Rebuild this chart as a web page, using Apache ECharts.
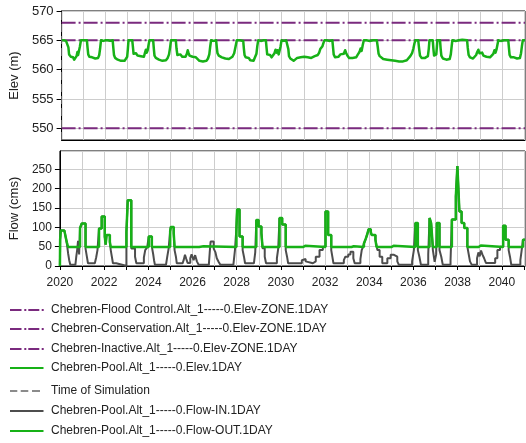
<!DOCTYPE html>
<html>
<head>
<meta charset="utf-8">
<script src="https://cdn.jsdelivr.net/npm/echarts@6/dist/echarts.min.js"></script>
<style>
  html, body { margin: 0; padding: 0; background: #fff; }
  #chart { width: 526px; height: 443px; }
</style>
</head>
<body>
<div id="chart"></div>
<script>
// Reservoir run 2020–2041: pool elevation against zone levels, and daily inflow/outflow.

// Axis ticks and labels
const yearTicks = [2020, 2021, 2022, 2023, 2024, 2025, 2026, 2027, 2028, 2029, 2030,
                   2031, 2032, 2033, 2034, 2035, 2036, 2037, 2038, 2039, 2040, 2041];
const yearLabels = [2020, 2022, 2024, 2026, 2028, 2030, 2032, 2034, 2036, 2038, 2040];
const elevTicks = [550, 555, 560, 565, 570];
const simStart = 2020, simEnd = 2041.05;

// Zone levels (m)
const floodControlElev = [[simStart, 568], [simEnd, 568]];
const conservationElev = [[simStart, 565], [simEnd, 565]];
const inactiveElev = [[simStart, 550], [simEnd, 550]];
const timeOfSimulation = [[simStart, 548], [simStart, 570]];

// Pool elevation (m), [decimal year, value]
const poolElev = [
  [2020.00,565.0],[2020.10,565.0],[2020.20,564.9],[2020.29,565.0],[2020.31,563.8],[2020.34,562.6],
  [2020.38,562.9],[2020.42,562.2],[2020.47,561.9],[2020.52,562.1],[2020.57,561.7],[2020.63,561.8],
  [2020.68,562.3],[2020.72,563.0],[2020.75,562.5],[2020.79,562.8],[2020.83,563.9],[2020.88,565.0],
  [2020.95,564.9],[2021.05,565.0],[2021.15,565.0],[2021.18,563.7],[2021.21,562.6],[2021.26,562.2],
  [2021.32,562.5],[2021.39,562.1],[2021.46,562.3],[2021.53,561.9],[2021.60,562.1],[2021.66,562.0],
  [2021.71,562.5],[2021.75,563.6],[2021.79,565.0],[2021.90,564.9],[2022.00,565.0],[2022.10,565.0],
  [2022.20,564.9],[2022.32,565.0],[2022.35,563.7],[2022.38,562.5],[2022.43,562.0],[2022.49,562.2],
  [2022.55,561.7],[2022.62,561.9],[2022.70,561.5],[2022.78,561.7],[2022.86,561.5],[2022.93,561.8],
  [2022.98,562.2],[2023.01,563.5],[2023.04,565.0],[2023.12,564.9],[2023.21,565.0],[2023.24,563.9],
  [2023.27,562.7],[2023.32,562.5],[2023.38,562.8],[2023.45,562.4],[2023.52,562.6],[2023.60,562.3],
  [2023.67,562.5],[2023.74,562.2],[2023.79,562.9],[2023.83,563.4],[2023.87,562.9],[2023.91,563.3],
  [2023.95,564.2],[2023.99,565.0],[2024.08,564.9],[2024.16,565.0],[2024.19,563.6],[2024.22,562.4],
  [2024.28,562.0],[2024.35,562.2],[2024.42,561.7],[2024.50,561.9],[2024.58,561.5],[2024.66,561.7],
  [2024.74,561.6],[2024.82,562.0],[2024.88,562.6],[2024.93,563.8],[2024.97,565.0],[2025.08,565.0],
  [2025.19,565.0],[2025.22,563.6],[2025.26,562.5],[2025.32,562.3],[2025.40,562.6],[2025.48,562.2],
  [2025.56,562.5],[2025.63,562.2],[2025.69,562.7],[2025.73,563.3],[2025.77,562.8],[2025.81,562.4],
  [2025.88,562.6],[2025.95,562.2],[2026.02,562.5],[2026.10,562.1],[2026.18,561.8],[2026.26,561.5],
  [2026.34,561.7],[2026.42,561.4],[2026.50,561.6],[2026.58,561.5],[2026.65,561.9],[2026.71,562.6],
  [2026.75,563.9],[2026.79,565.0],[2026.90,564.9],[2027.02,565.0],[2027.05,563.8],[2027.08,562.8],
  [2027.14,562.4],[2027.20,562.6],[2027.28,562.1],[2027.36,562.3],[2027.44,561.9],[2027.52,562.1],
  [2027.60,561.8],[2027.68,562.0],[2027.76,562.2],[2027.84,562.8],[2027.90,563.9],[2027.96,565.0],
  [2028.10,565.0],[2028.25,564.9],[2028.28,563.6],[2028.31,562.5],[2028.36,562.1],[2028.43,561.8],
  [2028.50,562.0],[2028.57,561.6],[2028.64,561.8],[2028.72,561.5],[2028.79,561.8],[2028.85,562.7],
  [2028.89,564.0],[2028.93,565.0],[2029.05,564.9],[2029.18,565.0],[2029.28,565.0],[2029.31,563.7],
  [2029.34,562.6],[2029.40,562.3],[2029.47,562.5],[2029.54,562.1],[2029.61,562.4],[2029.67,562.8],
  [2029.72,563.4],[2029.77,562.9],[2029.81,563.3],[2029.86,562.6],[2029.91,562.9],[2029.95,564.0],
  [2029.99,565.0],[2030.10,564.9],[2030.20,565.0],[2030.27,565.0],[2030.30,563.5],[2030.33,562.3],
  [2030.39,561.9],[2030.46,561.7],[2030.54,561.5],[2030.62,561.7],[2030.70,562.0],[2030.78,561.8],
  [2030.86,562.1],[2030.94,561.9],[2031.02,562.2],[2031.10,561.9],[2031.18,562.1],[2031.26,561.8],
  [2031.34,562.0],[2031.42,561.9],[2031.50,562.3],[2031.57,562.1],[2031.64,562.5],[2031.70,562.9],
  [2031.75,563.5],[2031.80,563.2],[2031.85,564.0],[2031.90,564.6],[2031.94,565.0],[2032.05,565.0],
  [2032.15,564.9],[2032.30,565.0],[2032.33,563.8],[2032.36,562.6],[2032.42,562.1],[2032.50,562.4],
  [2032.58,562.2],[2032.66,562.6],[2032.74,562.3],[2032.82,562.7],[2032.88,563.3],[2032.93,562.8],
  [2032.98,562.4],[2033.06,562.0],[2033.14,561.8],[2033.22,562.0],[2033.30,561.7],[2033.38,562.1],
  [2033.46,562.6],[2033.53,563.0],[2033.58,563.6],[2033.63,563.2],[2033.68,564.2],[2033.73,565.0],
  [2033.85,565.0],[2034.00,564.9],[2034.15,565.0],[2034.32,565.0],[2034.36,563.9],[2034.40,562.7],
  [2034.45,562.3],[2034.53,562.0],[2034.61,561.8],[2034.70,562.0],[2034.79,561.7],[2034.88,561.9],
  [2034.97,561.6],[2035.06,561.9],[2035.15,561.5],[2035.24,561.7],[2035.33,561.4],[2035.42,561.6],
  [2035.51,561.4],[2035.60,561.7],[2035.68,561.6],[2035.76,561.9],[2035.84,562.3],[2035.92,562.8],
  [2035.98,563.6],[2036.03,564.5],[2036.07,565.0],[2036.20,565.0],[2036.24,563.6],[2036.28,562.4],
  [2036.35,562.0],[2036.43,561.8],[2036.51,562.0],[2036.58,561.7],[2036.64,562.3],[2036.68,563.6],
  [2036.71,565.0],[2036.86,565.0],[2036.89,563.5],[2036.92,562.4],[2036.97,562.1],[2037.02,562.6],
  [2037.05,564.0],[2037.07,565.0],[2037.19,565.0],[2037.22,563.5],[2037.25,562.4],[2037.32,561.9],
  [2037.40,562.1],[2037.48,561.7],[2037.56,561.9],[2037.63,561.8],[2037.68,562.6],[2037.72,564.0],
  [2037.75,565.0],[2037.90,564.9],[2038.05,565.0],[2038.20,565.1],[2038.42,565.0],[2038.45,563.7],
  [2038.49,562.5],[2038.55,562.1],[2038.62,562.3],[2038.69,561.9],[2038.76,562.1],[2038.83,562.5],
  [2038.88,563.0],[2038.93,563.4],[2038.98,562.8],[2039.04,562.5],[2039.10,562.9],[2039.16,562.4],
  [2039.23,562.7],[2039.30,562.2],[2039.38,562.4],[2039.46,562.1],[2039.54,562.3],[2039.61,562.7],
  [2039.66,563.3],[2039.71,562.9],[2039.76,563.5],[2039.80,564.3],[2039.84,565.0],[2039.95,564.9],
  [2040.10,565.0],[2040.29,565.0],[2040.32,563.7],[2040.35,562.5],[2040.41,562.1],[2040.48,561.9],
  [2040.55,562.1],[2040.62,561.8],[2040.69,561.9],[2040.76,561.7],[2040.82,562.0],[2040.87,562.8],
  [2040.91,564.0],[2040.95,565.0],[2041.05,565.0]
];

// Inflow (cms), step values: [decimal year, value held from that date]
const flowIn = [
  [2020.00,0],[2020.01,68],[2020.04,92],[2020.20,88],[2020.27,72],[2020.32,55],[2020.37,33],
  [2020.42,15],[2020.47,3],[2020.70,8],[2020.74,24],[2020.78,41],[2020.82,65],[2020.87,30],
  [2020.91,98],[2020.99,110],[2021.16,45],[2021.22,24],[2021.27,7],[2021.58,4],[2021.64,22],
  [2021.70,41],[2021.77,97],[2021.89,128],[2022.03,76],[2022.07,55],[2022.11,80],[2022.26,62],
  [2022.30,41],[2022.35,24],[2022.40,7],[2022.55,2],[2022.90,0],[2023.01,88],[2023.07,170],
  [2023.23,45],[2023.40,24],[2023.46,7],[2023.80,22],[2023.86,41],[2023.95,48],[2024.02,76],
  [2024.16,50],[2024.22,31],[2024.26,15],[2024.30,3],[2024.80,5],[2024.86,25],[2024.92,45],
  [2024.99,90],[2025.02,101],[2025.15,85],[2025.19,41],[2025.25,24],[2025.29,7],[2025.55,5],
  [2025.60,15],[2025.66,29],[2025.72,18],[2025.78,8],[2025.90,20],[2025.96,30],[2026.05,15],
  [2026.12,28],[2026.20,12],[2026.28,3],[2026.74,5],[2026.78,35],[2026.82,63],[2026.96,45],
  [2027.04,35],[2027.10,20],[2027.18,11],[2027.26,3],[2027.85,8],[2027.92,40],[2027.99,100],
  [2028.02,146],[2028.13,76],[2028.27,41],[2028.33,24],[2028.38,7],[2028.78,12],[2028.84,35],
  [2028.89,119],[2028.99,102],[2029.12,85],[2029.17,46],[2029.27,24],[2029.33,7],[2029.82,20],
  [2029.88,45],[2029.94,124],[2030.06,107],[2030.22,41],[2030.28,24],[2030.33,7],[2030.95,15],
  [2031.02,18],[2031.12,12],[2031.20,7],[2031.45,12],[2031.58,24],[2031.75,41],[2031.90,50],
  [2032.02,141],[2032.14,80],[2032.28,41],[2032.33,24],[2032.38,7],[2032.85,15],[2032.92,24],
  [2033.05,30],[2033.15,37],[2033.28,20],[2033.34,7],[2033.60,18],[2033.66,41],[2033.72,50],
  [2033.76,58],[2033.84,70],[2033.91,82],[2033.97,95],[2034.07,88],[2034.11,80],[2034.28,68],
  [2034.37,41],[2034.47,24],[2034.59,7],[2034.82,20],[2034.97,29],[2035.12,24],[2035.27,12],
  [2035.34,3],[2035.94,12],[2036.02,41],[2036.09,111],[2036.20,41],[2036.27,24],[2036.34,3],
  [2036.67,30],[2036.73,124],[2036.80,111],[2036.88,41],[2036.96,11],[2037.03,30],[2037.06,111],
  [2037.18,41],[2037.26,24],[2037.33,3],[2037.68,15],[2037.74,120],[2037.92,180],[2037.99,258],
  [2038.08,141],[2038.18,111],[2038.30,98],[2038.44,50],[2038.50,31],[2038.56,12],[2038.64,3],
  [2038.88,20],[2038.94,35],[2039.00,25],[2039.06,40],[2039.12,30],[2039.20,20],[2039.28,8],
  [2039.70,20],[2039.80,41],[2039.92,50],[2040.06,104],[2040.17,68],[2040.31,41],[2040.37,24],
  [2040.43,3],[2040.84,15],[2040.90,41],[2040.96,68],[2041.05,68]
];

// Outflow (cms), step values: [decimal year, value held from that date]
const flowOut = [
  [2020.00,0],[2020.01,68],[2020.04,92],[2020.20,88],[2020.27,72],[2020.32,60],[2020.37,49],
  [2020.91,98],[2020.99,110],[2021.16,49],[2021.77,97],[2021.89,128],[2022.03,76],[2022.07,55],
  [2022.11,80],[2022.26,62],[2022.30,49],[2023.01,88],[2023.07,170],[2023.23,49],[2024.02,76],
  [2024.16,49],[2024.99,90],[2025.02,101],[2025.15,85],[2025.19,49],[2026.30,51],[2026.50,49],
  [2027.99,100],[2028.02,146],[2028.13,76],[2028.27,49],[2028.89,119],[2028.99,102],[2029.12,85],
  [2029.17,49],[2029.94,124],[2030.06,107],[2030.22,49],[2031.00,52],[2031.10,49],[2032.02,141],
  [2032.14,80],[2032.28,49],[2033.20,51],[2033.30,49],[2033.76,58],[2033.84,70],[2033.91,82],
  [2033.97,95],[2034.07,88],[2034.11,80],[2034.28,68],[2034.33,49],[2035.00,52],[2035.10,49],
  [2036.09,111],[2036.20,49],[2036.73,124],[2036.80,111],[2036.88,49],[2037.06,111],[2037.18,49],
  [2037.74,120],[2037.92,180],[2037.99,258],[2038.08,141],[2038.18,111],[2038.30,98],[2038.44,49],
  [2038.95,53],[2039.05,49],[2040.06,104],[2040.17,68],[2040.31,49],[2040.96,68],[2041.05,68]
];

const seriesNames = [
  'Chebren-Flood Control.Alt_1-----0.Elev-ZONE.1DAY',
  'Chebren-Conservation.Alt_1-----0.Elev-ZONE.1DAY',
  'Chebren-Inactive.Alt_1-----0.Elev-ZONE.1DAY',
  'Chebren-Pool.Alt_1-----0.Elev.1DAY',
  'Time of Simulation',
  'Chebren-Pool.Alt_1-----0.Flow-IN.1DAY',
  'Chebren-Pool.Alt_1-----0.Flow-OUT.1DAY'
];

const FONT = '"Liberation Sans", Arial, sans-serif';
const ZONE_COLOR = '#7a2a7e';
const GREEN = '#17b117';
const GRAY = '#4d4d4d';
const SIM_GRAY = '#666';
const zoneDash = [14, 3, 2, 3];

// Legend swatches in a 34x14 box; the two tiny corner squares pin the box size.
const BOX = 'M0,0h0.05v0.05h-0.05z M33.95,13.95h0.05v0.05h-0.05z ';
const ICON_DASHDOT = 'path://' + BOX + 'M0,6h11.5v2h-11.5z M14.3,6h2v2h-2z M18.3,6h11v2h-11z M31.7,6h2v2h-2z';
const ICON_SOLID = 'path://' + BOX + 'M0,6h33.5v2h-33.5z';
const ICON_DASHED = 'path://' + BOX + 'M0,6.3h7.3v1.4h-7.3z M10.7,6.3h7.6v1.4h-7.6z M22,6.3h8v1.4h-8z';

const chart = echarts.init(document.getElementById('chart'), null, { renderer: 'canvas' });

function yearAxis(gridIndex, withLabels) {
  return {
    type: 'value', gridIndex, min: simStart, max: simEnd, interval: 1,
    axisLine: { show: true, onZero: false, lineStyle: { color: '#000', width: 1 } },
    axisTick: { show: withLabels, customValues: yearTicks, length: 4, lineStyle: { color: '#000' } },
    axisLabel: {
      show: withLabels, customValues: yearLabels, margin: 11,
      fontSize: 12, color: '#222', fontFamily: FONT, formatter: v => String(v)
    },
    splitLine: { show: true, lineStyle: { color: '#cdcdcd', width: 1 } }
  };
}

function legendRow(i, top, icon) {
  return {
    show: true, left: 10, top: top, padding: 0, orient: 'vertical',
    itemWidth: 34, itemHeight: 14, selectedMode: false,
    textStyle: { fontSize: 12, color: '#222', fontFamily: FONT, padding: [0, 0, 0, 2] },
    data: [{ name: seriesNames[i], icon: icon }]
  };
}

const option = {
  animation: false,
  backgroundColor: '#fff',
  grid: [
    { left: 57, top: 11, width: 468, height: 129, show: true, borderColor: '#000', borderWidth: 1, backgroundColor: 'transparent' },
    { left: 57, top: 151, width: 468, height: 115, show: true, borderColor: '#000', borderWidth: 1, backgroundColor: 'transparent' }
  ],
  xAxis: [yearAxis(0, false), yearAxis(1, true)],
  yAxis: [
    {
      type: 'value', gridIndex: 0, min: 548, max: 570,
      name: 'Elev (m)', nameLocation: 'middle', nameGap: 33,
      nameTextStyle: { fontSize: 13, color: '#222', fontFamily: FONT },
      axisLine: { show: true, lineStyle: { color: '#000' } },
      axisTick: { show: true, customValues: elevTicks, length: 5, lineStyle: { color: '#000' } },
      axisLabel: { customValues: elevTicks, fontSize: 13, color: '#222', fontFamily: FONT, margin: 8 },
      splitLine: { show: true, lineStyle: { color: '#cdcdcd', width: 1 } }
    },
    {
      type: 'value', gridIndex: 1, min: 0, max: 297, interval: 50,
      name: 'Flow (cms)', nameLocation: 'middle', nameGap: 33,
      nameTextStyle: { fontSize: 13, color: '#222', fontFamily: FONT },
      axisLine: { show: true, lineStyle: { color: '#000' } },
      axisTick: { show: true, length: 5, lineStyle: { color: '#000' } },
      axisLabel: { fontSize: 12, color: '#222', fontFamily: FONT, margin: 8, showMaxLabel: false },
      splitLine: { show: true, lineStyle: { color: '#cdcdcd', width: 1 } }
    }
  ],
  legend: [
    legendRow(0, 303, ICON_DASHDOT),
    legendRow(1, 322, ICON_DASHDOT),
    legendRow(2, 342, ICON_DASHDOT),
    legendRow(3, 361, ICON_SOLID),
    legendRow(4, 384, ICON_DASHED),
    legendRow(5, 404, ICON_SOLID),
    legendRow(6, 424, ICON_SOLID)
  ],
  series: [
    { name: seriesNames[0], type: 'line', xAxisIndex: 0, yAxisIndex: 0, data: floodControlElev,
      symbol: 'none', lineStyle: { color: ZONE_COLOR, width: 2, type: zoneDash }, itemStyle: { color: ZONE_COLOR } },
    { name: seriesNames[1], type: 'line', xAxisIndex: 0, yAxisIndex: 0, data: conservationElev,
      symbol: 'none', lineStyle: { color: ZONE_COLOR, width: 2, type: zoneDash }, itemStyle: { color: ZONE_COLOR } },
    { name: seriesNames[2], type: 'line', xAxisIndex: 0, yAxisIndex: 0, data: inactiveElev,
      symbol: 'none', lineStyle: { color: ZONE_COLOR, width: 2, type: zoneDash }, itemStyle: { color: ZONE_COLOR } },
    { name: seriesNames[3], type: 'line', xAxisIndex: 0, yAxisIndex: 0, data: poolElev,
      symbol: 'none', lineStyle: { color: GREEN, width: 2.5, join: 'round' }, itemStyle: { color: GREEN } },
    { name: seriesNames[4], type: 'line', xAxisIndex: 0, yAxisIndex: 0, data: timeOfSimulation,
      symbol: 'none', lineStyle: { color: SIM_GRAY, width: 1, type: [8, 4] }, itemStyle: { color: SIM_GRAY } },
    { name: seriesNames[5], type: 'line', xAxisIndex: 1, yAxisIndex: 1, data: flowIn, step: 'end',
      symbol: 'none', lineStyle: { color: GRAY, width: 2 }, itemStyle: { color: GRAY } },
    { name: seriesNames[6], type: 'line', xAxisIndex: 1, yAxisIndex: 1, data: flowOut, step: 'end',
      symbol: 'none', lineStyle: { color: GREEN, width: 2.5 }, itemStyle: { color: GREEN } }
  ]
};

chart.setOption(option);
</script>
</body>
</html>
